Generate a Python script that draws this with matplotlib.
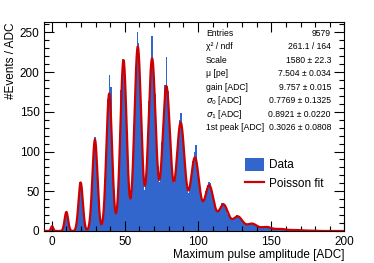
import numpy as np
import matplotlib
matplotlib.use("Agg")
import matplotlib.pyplot as plt
from matplotlib.ticker import MultipleLocator

plt.rcParams['font.family'] = ['Liberation Sans', 'DejaVu Sans']

# histogram: 1 ADC bins, first bin left edge at -5
bin_start = -5
counts = [
    0, 0, 0, 1, 3, 6, 2, 0, 0, 0,            # -5 .. 4
    0, 0, 2, 10, 19, 22, 13, 3, 1, 0,        # 5 .. 14
    1, 6, 21, 46, 62, 56, 32, 14, 3, 2,      # 15 .. 24
    8, 24, 62, 104, 118, 108, 64, 31, 12, 9, # 25 .. 34
    26, 66, 114, 166, 196, 181, 102, 52, 23, 27,   # 35 .. 44
    56, 110, 178, 217, 214, 182, 118, 68, 40, 47,  # 45 .. 54
    90, 146, 206, 251, 236, 188, 128, 82, 52, 70,  # 55 .. 64
    108, 164, 210, 245, 212, 172, 120, 82, 62, 77, # 65 .. 74
    112, 150, 184, 219, 176, 140, 100, 70, 60, 72, # 75 .. 84
    96, 122, 140, 148, 128, 100, 74, 55, 48, 58,   # 85 .. 94
    74, 88, 99, 108, 86, 66, 53, 41, 36, 42,       # 95 .. 104
    50, 58, 62, 60, 50, 40, 31, 27, 24, 27,        # 105 .. 114
    31, 35, 35, 33, 28, 22, 18, 16, 15, 16,        # 115 .. 124
    18, 20, 19, 18, 15, 12, 10, 9, 8, 9,           # 125 .. 134
    9, 10, 10, 9, 7, 6, 5, 5, 5, 5,                # 135 .. 144
    5, 5, 5, 4, 4, 3, 3, 3, 3, 3,                  # 145 .. 154
    2, 3, 2, 2, 2, 2, 2, 1, 1, 1,                  # 155 .. 164
    1, 1, 1, 1, 1, 1, 0, 1, 0, 0,                  # 165 .. 174
    1, 0, 0, 0, 0,                                 # 175 .. 179
]

# fit: peak heights, photo-electron peaks n = 0..18
peak_heights = [6, 24, 61, 115, 173, 215, 232, 217, 182, 136,
                92, 57, 33, 18, 9, 5, 2.5, 1.2, 0.5]
gain = 9.757
first_peak = 0.3026
sigma0 = 0.7769
sigma1 = 0.8921

stats_labels = ["Entries", "χ² / ndf", "Scale", "μ [pe]", "gain [ADC]",
                r"$\sigma_{0}$ [ADC]", r"$\sigma_{1}$ [ADC]", "1st peak [ADC]"]
stats_values = ["9579", "261.1 / 164", "1580 ± 22.3", "7.504 ± 0.034",
                "9.757 ± 0.015", "0.7769 ± 0.1325", "0.8921 ± 0.0220",
                "0.3026 ± 0.0808"]

fig = plt.figure(figsize=(3.74, 2.63), dpi=100)
ax = fig.add_axes([0.1185, 0.1217, 0.921 - 0.1185, 0.9163 - 0.1217])

edges = np.arange(bin_start, bin_start + len(counts) + 1)
ax.stairs(counts, edges, fill=True, color='#3366cc', linewidth=0, label='Data')

x = np.linspace(-5, 200, 2000)
y = np.zeros_like(x)
for n, h in enumerate(peak_heights):
    p = first_peak + n * gain
    s = np.sqrt(sigma0**2 + n * sigma1**2)
    y += h * np.exp(-(x - p)**2 / (2 * s**2))
ax.plot(x, y, color='#cc0000', lw=1.6, label='Poisson fit', zorder=3)

ax.set_xlim(-5, 200)
ax.set_ylim(0, 263)
ax.xaxis.set_major_locator(MultipleLocator(50))
ax.xaxis.set_minor_locator(MultipleLocator(10))
ax.yaxis.set_major_locator(MultipleLocator(50))
ax.yaxis.set_minor_locator(MultipleLocator(10))
ax.tick_params(which='both', direction='in', top=True, right=True, labelsize=8.5, width=0.8)
ax.tick_params(which='major', length=7)
ax.tick_params(which='minor', length=3.5)
for sp in ax.spines.values():
    sp.set_linewidth(0.8)

ax.set_xlabel("Maximum pulse amplitude [ADC]", fontsize=8.5, loc='right', labelpad=1)
ax.set_ylabel("#Events / ADC", fontsize=8.5, loc='top', labelpad=2)

for i, (lab, val) in enumerate(zip(stats_labels, stats_values)):
    yy = 0.945 - i * 0.0645
    ax.text(0.538, yy, lab, transform=ax.transAxes, fontsize=6.2, va='center', ha='left')
    ax.text(0.955, yy, val, transform=ax.transAxes, fontsize=6.2, va='center', ha='right')

ax.legend(loc='upper left', bbox_to_anchor=(0.64, 0.39), frameon=False, fontsize=8.5,
          handlelength=1.6, handleheight=1.3, borderpad=0.2, labelspacing=0.5, handletextpad=0.5)

fig.savefig("out.png", dpi=100)
